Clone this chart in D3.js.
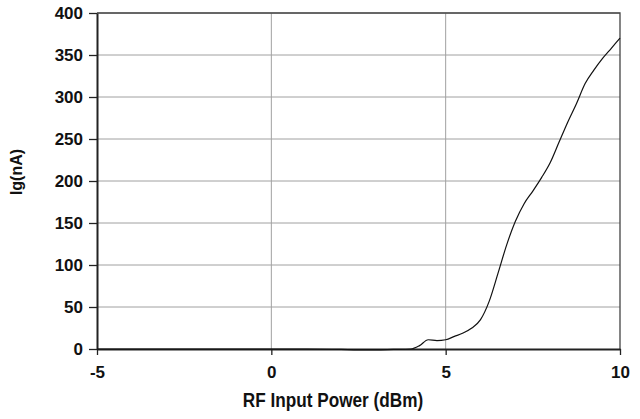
<!DOCTYPE html>
<html>
<head>
<meta charset="utf-8">
<script src="https://cdn.jsdelivr.net/npm/d3@7"></script>
<style>
  body { margin: 0; background: #fff; }
  text { font-family: "Liberation Sans", Arial, sans-serif; font-weight: bold; fill: #111; }
</style>
</head>
<body>
<div id="chart"></div>
<script>
// RF input power (dBm) and gate current Ig (nA)
const power = [-5, -4, -3, -2, -1, 0, 1, 2, 2.5, 3, 3.5, 4, 4.25, 4.5, 4.75, 5, 5.25, 5.5, 5.75, 6,
  6.25, 6.5, 6.75, 7, 7.25, 7.5, 7.75, 8, 8.25, 8.5, 8.75, 9, 9.25, 9.5, 9.75, 10];
const ig = [0, 0, 0, 0, 0, 0, 0, -0.5, -1, -1, -0.5, 0, 4, 11, 10, 11, 15, 19, 25, 35,
  57, 90, 124, 152, 173, 188, 204, 222, 246, 270, 292, 316, 332, 346, 358, 370];
const xTicks = [-5, 0, 5, 10];
const yTicks = [0, 50, 100, 150, 200, 250, 300, 350, 400];

const container = { width: 640, height: 419 };
const margins = { top: 13, bottom: 70, left: 97, right: 20 };
const dims = {
  width: container.width - margins.left - margins.right,
  height: container.height - margins.top - margins.bottom,
};

const x = d3.scaleLinear().domain([-5, 10]).range([0, dims.width]);
const y = d3.scaleLinear().domain([0, 400]).range([dims.height, 0]);

const svg = d3.select("#chart")
  .append("svg")
  .attr("width", container.width)
  .attr("height", container.height)
  .append("g")
  .attr("transform", "translate(" + margins.left + "," + margins.top + ")");

// grid lines
svg.append("g")
  .selectAll("line")
  .data(yTicks.slice(1))
  .enter()
  .append("line")
  .attr("x1", 0).attr("x2", dims.width)
  .attr("y1", d => y(d)).attr("y2", d => y(d))
  .attr("stroke", "#a0a0a0").attr("stroke-width", 1);

svg.append("g")
  .selectAll("line")
  .data(xTicks.slice(1, -1))
  .enter()
  .append("line")
  .attr("x1", d => x(d)).attr("x2", d => x(d))
  .attr("y1", 0).attr("y2", dims.height)
  .attr("stroke", "#a0a0a0").attr("stroke-width", 1);

// frame top + right
svg.append("path")
  .attr("d", "M0,0H" + dims.width + "V" + dims.height)
  .attr("fill", "none").attr("stroke", "#444").attr("stroke-width", 1.3);

// axes (plain hyphen for negatives)
const fmt = d => String(d);
const xAxis = svg.append("g")
  .attr("transform", "translate(0," + dims.height + ")")
  .call(d3.axisBottom(x).tickValues(xTicks).tickFormat(fmt).tickSize(6).tickPadding(11).tickSizeOuter(0));
const yAxis = svg.append("g")
  .call(d3.axisLeft(y).tickValues(yTicks).tickFormat(fmt).tickSize(8).tickPadding(6).tickSizeOuter(0));

[xAxis, yAxis].forEach(a => {
  a.select(".domain").attr("stroke", "#222").attr("stroke-width", 2);
  a.selectAll(".tick line").attr("stroke", "#222").attr("stroke-width", 1.3);
  a.selectAll(".tick text").style("font-size", "17px").attr("fill", "#111");
});

// curve
svg.append("path")
  .datum(power.map((p, i) => [p, ig[i]]))
  .attr("fill", "none")
  .attr("stroke", "#111")
  .attr("stroke-width", 1.2)
  .attr("d", d3.line().x(d => x(d[0])).y(d => y(d[1])).curve(d3.curveMonotoneX));

// axis titles (narrowed to mimic a condensed face)
svg.append("text")
  .attr("transform", "translate(236," + (dims.height + 58) + ") scale(0.86,1)")
  .attr("text-anchor", "middle")
  .style("font-size", "20px")
  .text("RF Input Power (dBm)");

svg.append("text")
  .attr("transform", "translate(" + (-75) + "," + (172 - margins.top) + ") rotate(-90)")
  .attr("text-anchor", "middle")
  .style("font-size", "16px")
  .text("Ig(nA)");
</script>
</body>
</html>
